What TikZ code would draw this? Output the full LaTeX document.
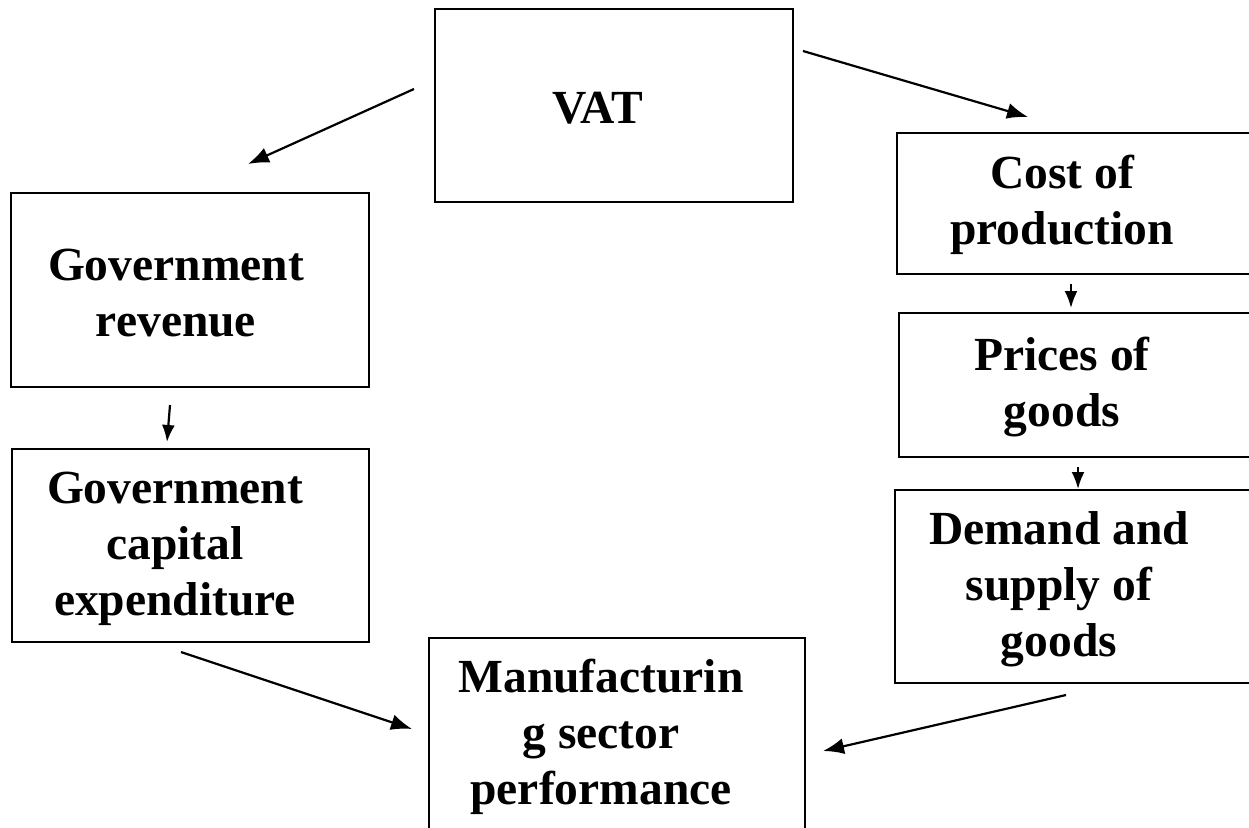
\documentclass[tikz,border=0pt]{standalone}
\usepackage{fontspec}
\setmainfont{Liberation Serif}
\usetikzlibrary{arrows.meta}
\begin{document}
\begin{tikzpicture}[x=1pt,y=-1pt,
  box/.style={draw=black, line width=2pt, inner sep=0pt},
  lbl/.style={font=\fontsize{47.5}{56}\selectfont\bfseries, align=center, inner sep=0pt},
  arr/.style={line width=2.2pt, -{Latex[length=21pt,width=16pt]}}]
\useasboundingbox (0,0) rectangle (1249,827);
\fill[white] (0,0) rectangle (1249,827);
\clip (0,0) rectangle (1249,827);

% boxes
\node[box, minimum width=358pt, minimum height=193pt] (vat)  at (614,105.5) {};
\node[box, minimum width=358pt, minimum height=194pt] (rev)  at (190,290) {};
\node[box, minimum width=357pt, minimum height=193pt] (cap)  at (190.5,545.5) {};
\node[box, minimum width=403pt, minimum height=141pt] (cost) at (1098.5,203.5) {};
\node[box, minimum width=401pt, minimum height=144pt] (price) at (1099.5,385) {};
\node[box, minimum width=405pt, minimum height=193pt] (dem)  at (1097.5,586.5) {};
\node[box, minimum width=376pt, minimum height=262pt] (man)  at (617,769) {};

% box texts
\node[lbl] (vat-t)   at (598,108.5) {VAT};
\node[lbl] (rev-t)   at (176,293.5) {Government\\revenue};
\node[lbl] (cap-t)   at (175,549) {Government\\capital\\expenditure};
\node[lbl] (cost-t)  at (1062,205) {Cost of\\production};
\node[lbl] (price-t) at (1062,387) {Prices of\\goods};
\node[lbl] (dem-t)   at (1059,589) {Demand and\\supply of\\goods};
\node[lbl] (man-t)   at (601,737) {Manufacturin\\g sector\\performance};

% arrow end points
\coordinate (vat-w)   at (414,89);
\coordinate (rev-in)  at (248,164);
\coordinate (vat-e)   at (803,51);
\coordinate (cost-in) at (1028,117);
\coordinate (cost-s)  at (1071,284);
\coordinate (price-in) at (1071,308);
\coordinate (price-s) at (1078,467);
\coordinate (dem-in)  at (1078,489);
\coordinate (rev-s)   at (170,405);
\coordinate (cap-in)  at (167,442);
\coordinate (cap-s)   at (181,652);
\coordinate (man-w)   at (412,729);
\coordinate (dem-s)   at (1066,695);
\coordinate (man-e)   at (823,751);

% connectors
\draw[arr] (vat-w) -- (rev-in);
\draw[arr] (vat-e) -- (cost-in);
\draw[arr, -{Latex[length=17pt,width=13pt]}] (cost-s) -- (price-in);
\draw[arr, -{Latex[length=17pt,width=13pt]}] (price-s) -- (dem-in);
\draw[arr, -{Latex[length=17pt,width=13pt]}] (rev-s) -- (cap-in);
\draw[arr] (cap-s) -- (man-w);
\draw[arr] (dem-s) -- (man-e);
\end{tikzpicture}
\end{document}
